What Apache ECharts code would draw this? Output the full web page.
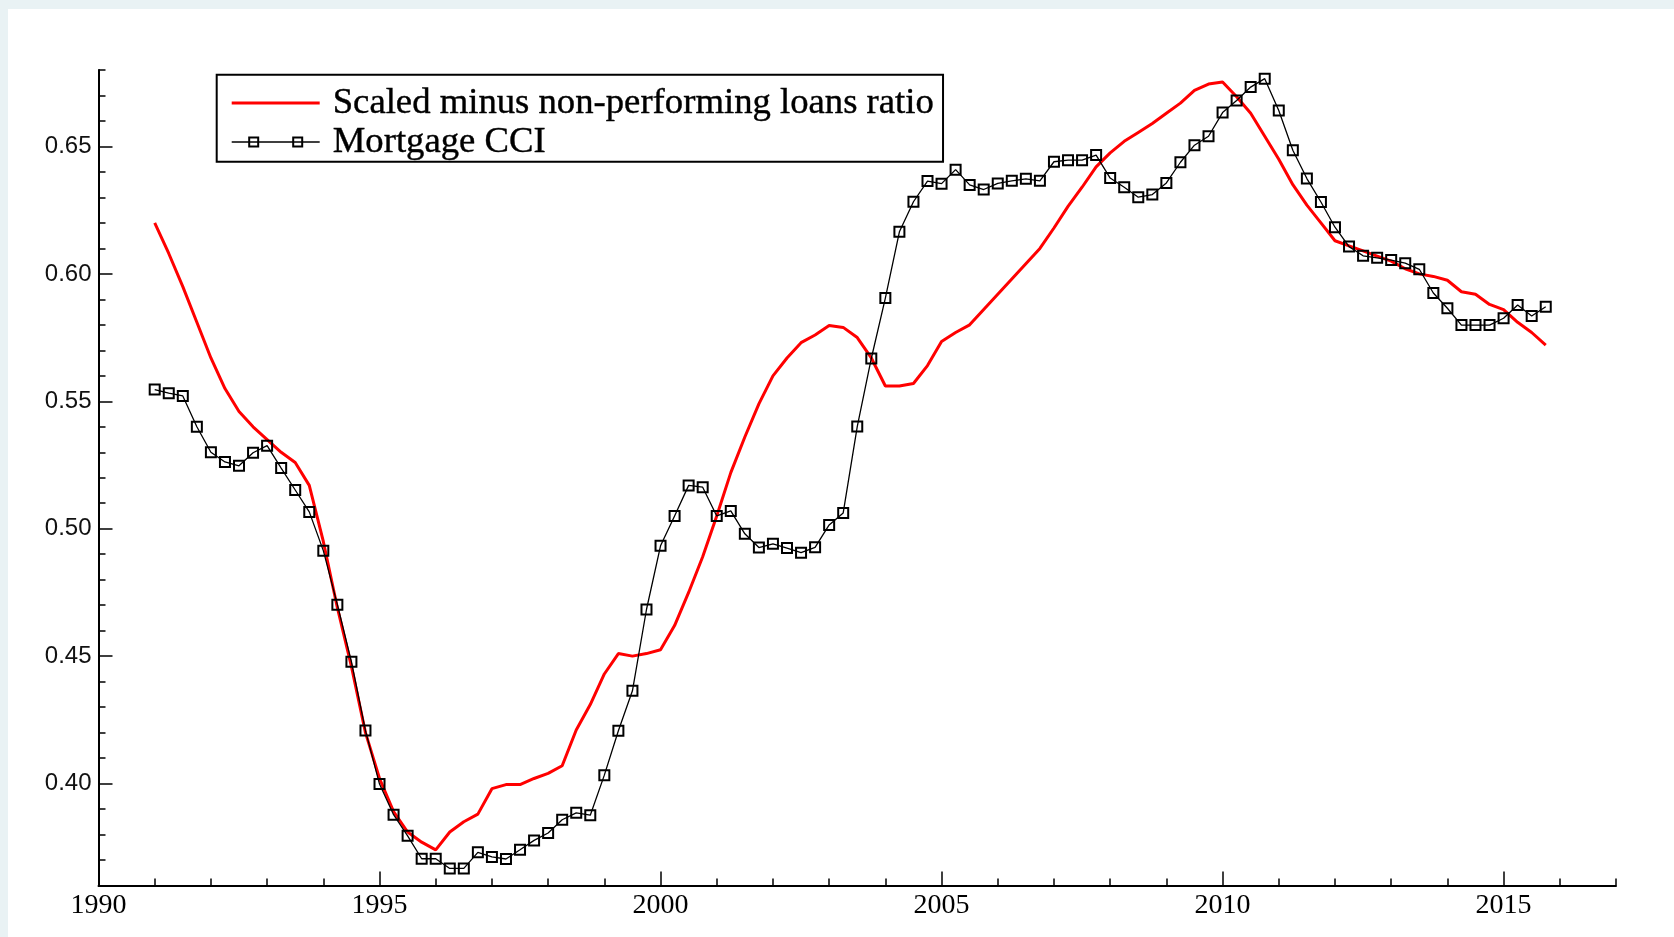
<!DOCTYPE html>
<html>
<head>
<meta charset="utf-8">
<script src="https://cdn.jsdelivr.net/npm/echarts@6/dist/echarts.min.js"></script>
<style>
  html, body { margin: 0; padding: 0; background: #e9f2f4; }
  #chart { position: absolute; left: 8px; top: 9px; width: 1666px; height: 928px; background: #ffffff; }
</style>
</head>
<body>
<div id="chart"></div>
<script>
// Quarterly observations, 1991 Q1 .. 2015 Q4
const startYear = 1991;

// Scaled minus non-performing loans ratio
const nplScaled = [
  0.620, 0.608, 0.595, 0.581,   // 1991
  0.567, 0.555, 0.546, 0.540,   // 1992
  0.535, 0.530, 0.526, 0.517,   // 1993
  0.495, 0.469, 0.446, 0.420,   // 1994
  0.402, 0.389, 0.381, 0.377,   // 1995
  0.374, 0.381, 0.385, 0.388,   // 1996
  0.398, 0.3996, 0.3996, 0.402, // 1997
  0.404, 0.407, 0.421, 0.431,   // 1998
  0.443, 0.451, 0.450, 0.451,   // 1999
  0.4525, 0.462, 0.475, 0.489,  // 2000
  0.505, 0.522, 0.536, 0.549,   // 2001
  0.560, 0.567, 0.573, 0.576,   // 2002
  0.5797, 0.579, 0.575, 0.567,  // 2003
  0.556, 0.556, 0.557, 0.564,   // 2004
  0.5735, 0.577, 0.580, 0.586,  // 2005
  0.592, 0.598, 0.604, 0.610,   // 2006
  0.618, 0.6265, 0.634, 0.642,  // 2007
  0.6475, 0.652, 0.6555, 0.659, // 2008
  0.663, 0.667, 0.672, 0.6745,  // 2009
  0.6753, 0.6695, 0.663, 0.654, // 2010
  0.645, 0.635, 0.627, 0.620,   // 2011
  0.613, 0.611, 0.609, 0.607,   // 2012
  0.605, 0.602, 0.600, 0.599,   // 2013
  0.5975, 0.593, 0.592, 0.588,  // 2014
  0.586, 0.581, 0.577, 0.572    // 2015
];

// Mortgage credit conditions index
const mortgageCCI = [
  0.5546, 0.5532, 0.5521, 0.5400, // 1991
  0.5300, 0.5262, 0.5247, 0.5298, // 1992
  0.5326, 0.5238, 0.5152, 0.5066, // 1993
  0.4914, 0.4702, 0.4478, 0.4208, // 1994
  0.3998, 0.3878, 0.3795, 0.3705, // 1995
  0.3705, 0.3667, 0.3667, 0.3730, // 1996
  0.3712, 0.3704, 0.3740, 0.3777, // 1997
  0.3806, 0.3858, 0.3885, 0.3876, // 1998
  0.4033, 0.4207, 0.4364, 0.4683, // 1999
  0.4933, 0.5050, 0.5170, 0.5163, // 2000
  0.5050, 0.5070, 0.4980, 0.4926, // 2001
  0.4941, 0.4924, 0.4906, 0.4927, // 2002
  0.5015, 0.5062, 0.5401, 0.5668, // 2003
  0.5905, 0.6165, 0.6283, 0.6364, // 2004
  0.6354, 0.6409, 0.6349, 0.6331, // 2005
  0.6355, 0.6365, 0.6373, 0.6365, // 2006
  0.6440, 0.6446, 0.6446, 0.6466, // 2007
  0.6376, 0.6340, 0.6301, 0.6311, // 2008
  0.6357, 0.6438, 0.6505, 0.6540, // 2009
  0.6633, 0.6680, 0.6733, 0.6766, // 2010
  0.6641, 0.6485, 0.6374, 0.6282, // 2011
  0.6183, 0.6107, 0.6071, 0.6063, // 2012
  0.6054, 0.6042, 0.6018, 0.5925, // 2013
  0.5865, 0.5799, 0.5799, 0.5799, // 2014
  0.5826, 0.5878, 0.5835, 0.5871  // 2015
];

const seriesNames = ['Scaled minus non-performing loans ratio', 'Mortgage CCI'];

// Axis extents and tick steps
const xRange = [1990, 2017];
const xMajor = [1990, 2015, 5];   // labelled ticks: first, last, step
const yRange = [0.36, 0.68];
const yMajor = [0.40, 0.65, 0.05];

// quarter -> decimal year
const quarterYears = mortgageCCI.map((_, i) => startYear + i / 4);

// Plot frame inside the chart element (px)
const frame = { left: 90.5, right: 58, top: 61, bottom: 51.5, width: 1666, height: 928 };
const plotW = frame.width - frame.left - frame.right;
const plotH = frame.height - frame.top - frame.bottom;
const pxPerYear = plotW / (xRange[1] - xRange[0]);
const pxPerUnit = plotH / (yRange[1] - yRange[0]);

// Extra grids carrying the long (labelled) ticks, aligned with the main frame
const gridMajorX = {
  left: frame.left, top: frame.top, bottom: frame.bottom,
  right: frame.right + (xRange[1] - xMajor[1]) * pxPerYear
};
const gridMajorY = {
  left: frame.left, right: frame.right,
  top: frame.top + (yRange[1] - yMajor[1]) * pxPerUnit,
  bottom: frame.bottom + (yMajor[0] - yRange[0]) * pxPerUnit
};

const axisColor = '#000';

// Legend glyphs: a red stroke, and a line with two hollow squares
const iconRed = 'path://M0,4.5L88,4.5L88,7.5L0,7.5Z';
const iconCCI = 'path://M0,5.3L88,5.3L88,6.7L0,6.7Z' +
  'M16.5,0.5L27.5,0.5L27.5,11.5L16.5,11.5Z M18.5,2.5L18.5,9.5L25.5,9.5L25.5,2.5Z' +
  'M60.5,0.5L71.5,0.5L71.5,11.5L60.5,11.5Z M62.5,2.5L62.5,9.5L69.5,9.5L69.5,2.5Z';

const chart = echarts.init(document.getElementById('chart'), null, { renderer: 'canvas' });

chart.setOption({
  animation: false,
  backgroundColor: '#ffffff',
  grid: [
    { left: frame.left, right: frame.right, top: frame.top, bottom: frame.bottom, containLabel: false },
    Object.assign({ containLabel: false }, gridMajorX),
    Object.assign({ containLabel: false }, gridMajorY)
  ],
  legend: {
    orient: 'vertical',
    left: 208.7,
    top: 65.7,
    padding: [9.6, 9, 1.0, 15],
    itemGap: 1.6,
    itemWidth: 88,
    itemHeight: 12,
    borderColor: '#000',
    borderWidth: 2,
    backgroundColor: '#ffffff',
    selectedMode: false,
    textStyle: {
      fontFamily: 'Liberation Serif',
      fontSize: 36.7,
      lineHeight: 36,
      color: '#000',
      textBorderColor: '#000',
      textBorderWidth: 0.4,
      padding: [0, 0, 0, 8]
    },
    data: [
      { name: seriesNames[0], icon: iconRed, itemStyle: { color: '#ff0000', borderWidth: 0 } },
      { name: seriesNames[1], icon: iconCCI, itemStyle: { color: '#000000', borderWidth: 0 } }
    ]
  },
  xAxis: [
    { // frame line + yearly minor ticks
      gridIndex: 0, type: 'value', min: xRange[0], max: xRange[1], interval: 1,
      axisLine: { show: true, onZero: false, lineStyle: { color: axisColor, width: 2 } },
      axisTick: { show: true, inside: true, length: 7, lineStyle: { color: axisColor, width: 1.5 } },
      axisLabel: { show: false },
      splitLine: { show: false }
    },
    { // five-year labelled ticks
      gridIndex: 1, type: 'value', min: xMajor[0], max: xMajor[1], interval: xMajor[2],
      axisLine: { show: false, onZero: false },
      axisTick: { show: true, inside: true, length: 14, lineStyle: { color: axisColor, width: 1.5 } },
      axisLabel: {
        show: true, margin: 6, color: '#000',
        fontFamily: 'Liberation Serif', fontSize: 28,
        formatter: v => String(v)
      },
      splitLine: { show: false }
    },
    { gridIndex: 2, type: 'value', show: false }
  ],
  yAxis: [
    { // frame line + minor ticks every 0.01
      gridIndex: 0, type: 'value', min: yRange[0], max: yRange[1], interval: 0.01,
      axisLine: { show: true, onZero: false, lineStyle: { color: axisColor, width: 2 } },
      axisTick: { show: true, inside: true, length: 7, lineStyle: { color: axisColor, width: 1.5 } },
      axisLabel: { show: false },
      splitLine: { show: false }
    },
    { gridIndex: 1, type: 'value', show: false },
    { // labelled ticks every 0.05
      gridIndex: 2, type: 'value', min: yMajor[0], max: yMajor[1], interval: yMajor[2],
      axisLine: { show: false, onZero: false },
      axisTick: { show: true, inside: true, length: 14, lineStyle: { color: axisColor, width: 1.5 } },
      axisLabel: {
        show: true, margin: 7, color: '#111',
        fontFamily: 'Liberation Sans', fontSize: 24,
        formatter: v => v.toFixed(2)
      },
      splitLine: { show: false }
    }
  ],
  series: [
    {
      name: seriesNames[0],
      type: 'line',
      xAxisIndex: 0, yAxisIndex: 0,
      data: quarterYears.map((x, i) => [x, nplScaled[i]]),
      symbol: 'none',
      showSymbol: false,
      lineStyle: { color: '#ff0000', width: 3 },
      itemStyle: { color: '#ff0000' },
      z: 2
    },
    {
      name: seriesNames[1],
      type: 'line',
      xAxisIndex: 0, yAxisIndex: 0,
      data: quarterYears.map((x, i) => [x, mortgageCCI[i]]),
      symbol: 'rect',
      symbolSize: 10,
      lineStyle: { color: '#000', width: 1.3 },
      itemStyle: { color: 'transparent', borderColor: '#000', borderWidth: 2 },
      z: 3
    }
  ]
});
</script>
</body>
</html>
